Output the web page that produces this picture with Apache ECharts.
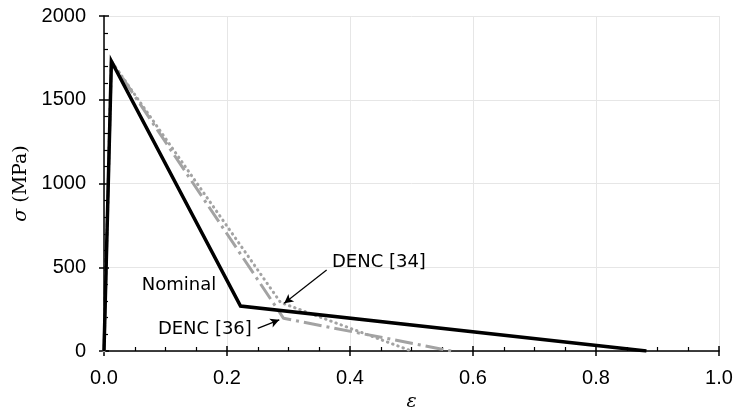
<!DOCTYPE html>
<html>
<head>
<meta charset="UTF-8">
<title>sigma-epsilon</title>
<script src="https://cdn.jsdelivr.net/npm/echarts@6/dist/echarts.min.js"></script>
<style>
  html, body { margin: 0; padding: 0; background: #fff; }
  #chart { width: 735px; height: 407px; }
</style>
</head>
<body>
<div id="chart"></div>
<script>
// strain / stress points of each curve
var nominalX = [0, 0.012, 0.222, 0.882];
var nominalY = [0, 1730, 268, 0];
var denc34X = [0, 0.012, 0.287, 0.500];
var denc34Y = [0, 1730, 290, 0];
var denc36X = [0, 0.012, 0.292, 0.565];
var denc36Y = [0, 1730, 195, 0];

// annotation texts and where they sit (data units)
var labelTexts = ['Nominal', 'DENC [34]', 'DENC [36]'];
var labelX = [0.122, 0.447, 0.164];
var labelY = [394, 531, 131];
// arrows: from -> to
var arrowFrom = [[0.362, 483], [0.250, 135]];
var arrowTo = [[0.293, 285], [0.285, 186]];

function pairs(xs, ys) {
    return xs.map(function (x, i) { return [x, ys[i]]; });
}

var chart = echarts.init(document.getElementById('chart'));

var tickFont = { fontFamily: 'Liberation Sans', fontSize: 20, color: '#000' };

var baseX = {
    type: 'value', min: 0, max: 1, interval: 0.2,
    gridIndex: 0, position: 'bottom'
};
var baseY = {
    type: 'value', min: 0, max: 2000, interval: 500,
    gridIndex: 0, position: 'left'
};

chart.setOption({
    animation: false,
    backgroundColor: '#fff',
    grid: { left: 104, right: 16, top: 16, bottom: 56, outerBoundsMode: 'none', containLabel: false },
    xAxis: [
        Object.assign({}, baseX, {
            name: 'ε',
            nameLocation: 'middle',
            nameGap: 36,
            nameTextStyle: { fontFamily: 'DejaVu Serif', fontStyle: 'italic', fontSize: 19, color: '#000' },
            axisLine: { show: true, lineStyle: { color: '#000', width: 1.5 } },
            axisTick: { show: true, inside: false, length: 5, lineStyle: { color: '#000', width: 1.5 } },
            axisLabel: Object.assign({ margin: 17, formatter: function (v) { return v.toFixed(1); } }, tickFont),
            splitLine: { show: true, lineStyle: { color: '#e6e6e6', width: 1 } }
        }),
        Object.assign({}, baseX, {
            axisLine: { show: false },
            axisTick: { show: true, inside: true, length: 5, lineStyle: { color: '#000', width: 1.5 } },
            minorTick: { show: true, splitNumber: 4, length: 4, lineStyle: { color: '#000', width: 1.2 } },
            axisLabel: { show: false },
            splitLine: { show: false }
        })
    ],
    yAxis: [
        Object.assign({}, baseY, {
            name: '{s|σ} (MPa)',
            nameLocation: 'middle',
            nameGap: 70,
            nameRotate: 90,
            nameTextStyle: {
                fontFamily: 'DejaVu Serif', fontSize: 19, color: '#000',
                rich: { s: { fontFamily: 'DejaVu Serif', fontStyle: 'italic', fontSize: 19, color: '#000' } }
            },
            axisLine: { show: true, lineStyle: { color: '#000', width: 1.5 } },
            axisTick: { show: true, inside: false, length: 5, lineStyle: { color: '#000', width: 1.5 } },
            axisLabel: Object.assign({ margin: 18, formatter: function (v) { return String(v); } }, tickFont),
            splitLine: { show: true, lineStyle: { color: '#e6e6e6', width: 1 } }
        }),
        Object.assign({}, baseY, {
            axisLine: { show: false },
            axisTick: { show: true, inside: true, length: 5, lineStyle: { color: '#000', width: 1.5 } },
            minorTick: { show: true, splitNumber: 5, length: 4, lineStyle: { color: '#000', width: 1.2 } },
            axisLabel: { show: false },
            splitLine: { show: false }
        })
    ],
    series: [
        {
            name: 'DENC [36]', type: 'line', data: pairs(denc36X, denc36Y),
            showSymbol: false, symbol: 'none', z: 2,
            lineStyle: { color: '#a3a3a3', width: 3, type: [18, 5, 3, 5], cap: 'butt' }
        },
        {
            name: 'DENC [34]', type: 'line', data: pairs(denc34X, denc34Y),
            showSymbol: false, symbol: 'none', z: 2,
            lineStyle: { color: '#a3a3a3', width: 3, type: [0.5, 5], cap: 'round' }
        },
        {
            name: 'Nominal', type: 'line', data: pairs(nominalX, nominalY),
            showSymbol: false, symbol: 'none', z: 3,
            lineStyle: { color: '#000', width: 3.5, join: 'miter' },
            markPoint: {
                symbol: 'circle', symbolSize: 0, silent: true,
                label: {
                    show: true, position: 'inside',
                    fontFamily: 'DejaVu Sans', fontSize: 18, color: '#000',
                    formatter: function (p) { return p.name; }
                },
                data: labelTexts.map(function (t, i) {
                    return { name: t, coord: [labelX[i], labelY[i]] };
                })
            },
            markLine: {
                silent: true,
                symbol: ['none', 'arrow'],
                symbolSize: [7, 9],
                label: { show: false },
                lineStyle: { color: '#000', width: 1.2, type: 'solid' },
                data: arrowFrom.map(function (f, i) {
                    return [{ coord: f }, { coord: arrowTo[i] }];
                })
            }
        }
    ]
});
</script>
</body>
</html>
